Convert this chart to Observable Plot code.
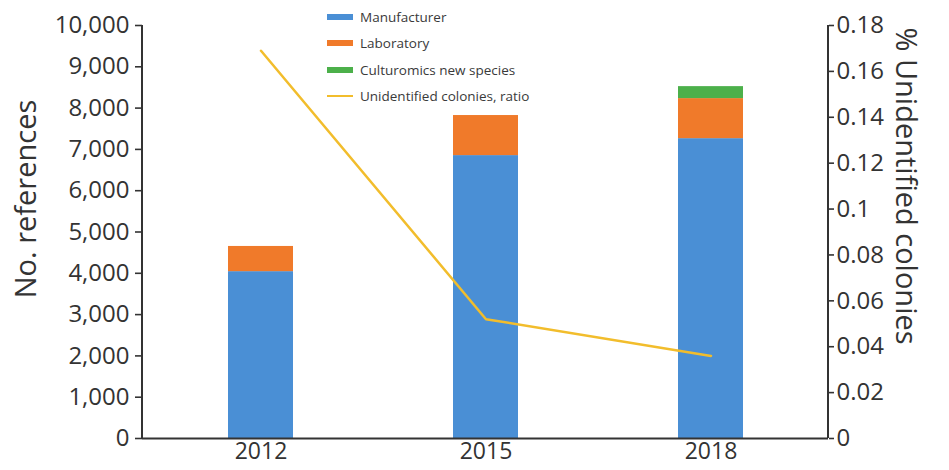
<!DOCTYPE html>
<html>
<head>
<meta charset="utf-8">
<script src="https://cdn.jsdelivr.net/npm/d3@7"></script>
<script src="https://cdn.jsdelivr.net/npm/@observablehq/plot@0.6"></script>
<style>
  html, body { margin: 0; padding: 0; background: #fff; }
  #wrap { position: relative; width: 949px; height: 470px; font-family: "Open Sans", sans-serif; }
  #legend { position: absolute; left: 327px; top: 4px; font-size: 13.5px; color: #3a3a3a; }
  #legend .row { display: flex; align-items: center; height: 26.3px; }
  #legend .sw { width: 26px; margin-right: 7px; }
</style>
</head>
<body>
<div id="wrap"><div id="legend"></div></div>
<script>
const years = ["2012", "2015", "2018"];
const series = ["Manufacturer", "Laboratory", "Culturomics new species"];
const manufacturer = [4040, 6850, 7260];
const laboratory = [610, 970, 970];
const culturomics = [0, 0, 290];
const ratio = [0.169, 0.052, 0.036];
const leftTicks = [0, 1000, 2000, 3000, 4000, 5000, 6000, 7000, 8000, 9000, 10000];
const rightTicks = [0, 0.02, 0.04, 0.06, 0.08, 0.1, 0.12, 0.14, 0.16, 0.18];
const lineLabel = "Unidentified colonies, ratio";
const colors = ["#4a8fd5", "#f07a2a", "#4cb04a"];
const lineColor = "#f2bd2c";

const yMax = 10000, rMax = 0.18;
const toY = r => r / rMax * yMax;

const stacked = [];
years.forEach((yr, i) => {
  [manufacturer, laboratory, culturomics].forEach((arr, j) => {
    stacked.push({year: yr, series: series[j], value: arr[i]});
  });
});
const lineData = years.map((yr, i) => ({year: yr, ratio: ratio[i]}));

const W = 949, H = 470, mL = 142, mR = 121, mT = 25, mB = 32;
const chart = Plot.plot({
  width: W,
  height: H,
  marginLeft: mL,
  marginRight: mR,
  marginTop: mT,
  marginBottom: mB,
  style: {fontFamily: "Open Sans", background: "transparent", color: "#333"},
  x: {domain: years, paddingInner: 0.712, paddingOuter: 0.374, label: null},
  y: {domain: [0, yMax], label: null},
  color: {domain: series, range: colors},
  marks: [
    Plot.barY(stacked, {x: "year", y: "value", fill: "series", order: series}),
    Plot.line(lineData, {x: "year", y: d => toY(d.ratio), stroke: lineColor, strokeWidth: 2.5}),
    Plot.axisY({anchor: "left", ticks: leftTicks, tickFormat: d3.format(","), fontSize: 24, tickSize: 7, tickPadding: 6, label: null, stroke: "#333", strokeWidth: 1.6, fill: "#333"}),
    Plot.axisY({anchor: "right", ticks: rightTicks.map(toY), tickFormat: d => String(+(d / yMax * rMax).toFixed(2)), fontSize: 24, tickSize: 5, tickPadding: 3, label: null, stroke: "#333", strokeWidth: 1.6, fill: "#333"}),
    Plot.axisX({fontSize: 23, tickSize: 0, tickPadding: 4, label: null, fill: "#333"}),
    Plot.ruleY([0], {stroke: "#333", strokeWidth: 2}),
    Plot.text(["No. references"], {frameAnchor: "left", textAnchor: "middle", text: d => d, rotate: -90, dx: -116, dy: -33, fontSize: 29, fill: "#333"}),
    Plot.text(["% Unidentified colonies"], {frameAnchor: "right", textAnchor: "middle", text: d => d, rotate: 90, dx: 77, dy: -46, fontSize: 29, fill: "#333"})
  ]
});

// vertical axis lines, positioned through the chart's own y scale
const ys = chart.scale("y");
const yTop = ys.apply(yMax), yBot = ys.apply(0);
const svg = d3.select(chart.tagName === "svg" ? chart : chart.querySelector("svg"));
[mL, W - mR].forEach(xp => {
  svg.append("line")
    .attr("x1", xp).attr("x2", xp)
    .attr("y1", yTop).attr("y2", yBot)
    .attr("stroke", "#333").attr("stroke-width", 2);
});

const wrap = document.getElementById("wrap");
wrap.insertBefore(chart, wrap.firstChild);

const legend = document.getElementById("legend");
series.forEach((s, i) => {
  const row = document.createElement("div"); row.className = "row";
  const sw = document.createElement("div"); sw.className = "sw";
  sw.style.height = "6px"; sw.style.background = colors[i];
  const t = document.createElement("span"); t.textContent = s;
  row.appendChild(sw); row.appendChild(t); legend.appendChild(row);
});
{
  const row = document.createElement("div"); row.className = "row";
  const sw = document.createElement("div"); sw.className = "sw";
  sw.style.height = "2.5px"; sw.style.background = lineColor;
  const t = document.createElement("span"); t.textContent = lineLabel;
  row.appendChild(sw); row.appendChild(t); legend.appendChild(row);
}
</script>
</body>
</html>
